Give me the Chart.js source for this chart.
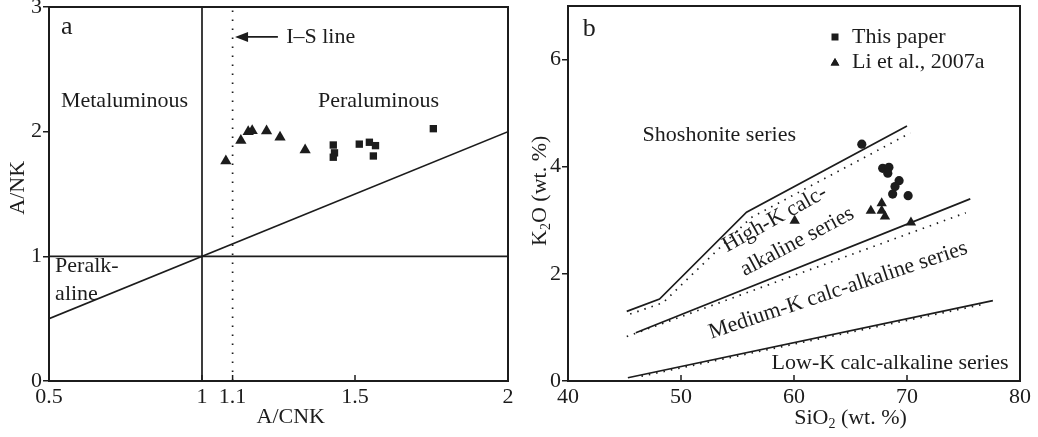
<!DOCTYPE html>
<html>
<head>
<meta charset="utf-8">
<script src="https://cdn.jsdelivr.net/npm/chart.js@4.4.0/dist/chart.umd.min.js"></script>
<style>
  body { margin: 0; background: #fff; }
  #wrap { display: flex; width: 1038px; height: 437px; }
</style>
</head>
<body>
<div id="wrap">
  <canvas id="chartA" width="520" height="437"></canvas>
  <canvas id="chartB" width="518" height="437"></canvas>
</div>
<script>
// ---- panel a : A/CNK vs A/NK ----
const acnkTicks = [0.5, 1, 1.1, 1.5, 2];
const ankTicks = [0, 1, 2, 3];
const liAcnk = [1.078, 1.127, 1.151, 1.164, 1.211, 1.255, 1.337];
const liAnk = [1.765, 1.93, 2.0, 2.008, 2.006, 1.955, 1.853];
const paperAcnk = [1.429, 1.433, 1.429, 1.514, 1.547, 1.567, 1.56, 1.756];
const paperAnk = [1.893, 1.83, 1.795, 1.90, 1.915, 1.888, 1.805, 2.024];

// ---- panel b : SiO2 vs K2O ----
const sio2Ticks = [40, 50, 60, 70, 80];
const k2oTicks = [0, 2, 4, 6];
const paperSio2 = [66.0, 67.85, 68.4, 68.3, 69.3, 68.94, 68.73, 70.1];
const paperK2o = [4.42, 3.97, 3.99, 3.88, 3.74, 3.63, 3.49, 3.46];
const liSio2 = [60.06, 66.8, 67.76, 67.76, 68.05, 70.35];
const liK2o = [2.99, 3.18, 3.32, 3.18, 3.07, 2.96];

// series boundaries (solid) and alternative boundaries (dotted)
const shoshSio2 = [45.2, 48.1, 55.8, 70];
const shoshK2o = [1.30, 1.53, 3.15, 4.76];
const highSio2 = [46, 75.6];
const highK2o = [0.9, 3.4];
const lowSio2 = [45.3, 77.6];
const lowK2o = [0.06, 1.5];
const shoshDotSio2 = [45.5, 48.4, 56.2, 70.3];
const shoshDotK2o = [1.25, 1.46, 3.05, 4.63];
const highDotSio2 = [45.2, 75.2];
const highDotK2o = [0.83, 3.14];
const lowDotSio2 = [46.5, 76.5];
const lowDotK2o = [0.09, 1.42];

const ink = '#1c1c1c';
const serif = '"Liberation Serif", "Times New Roman", serif';

const pts = (xs, ys) => xs.map((x, i) => ({ x: x, y: ys[i] }));

function drawText(chart, txt, x, y, opt) {
  opt = opt || {};
  const { ctx, scales } = chart;
  ctx.save();
  ctx.translate(scales.x.getPixelForValue(x), scales.y.getPixelForValue(y));
  if (opt.rot) ctx.rotate(opt.rot * Math.PI / 180);
  ctx.font = (opt.size || 22) + 'px ' + serif;
  ctx.textAlign = opt.align || 'left';
  ctx.textBaseline = 'middle';
  ctx.fillStyle = ink;
  ctx.fillText(txt, 0, 0);
  ctx.restore();
}

// text with subscript runs, centred on (px, py)
function drawRuns(ctx, runs, px, py, rot) {
  ctx.save();
  ctx.translate(px, py);
  if (rot) ctx.rotate(rot * Math.PI / 180);
  ctx.fillStyle = ink;
  ctx.textBaseline = 'middle';
  ctx.textAlign = 'left';
  let w = 0;
  runs.forEach(r => { ctx.font = (r.sub ? 14 : 22) + 'px ' + serif; w += ctx.measureText(r.t).width; });
  let cx = -w / 2;
  runs.forEach(r => {
    ctx.font = (r.sub ? 14 : 22) + 'px ' + serif;
    ctx.fillText(r.t, cx, r.sub ? 6 : 0);
    cx += ctx.measureText(r.t).width;
  });
  ctx.restore();
}

function drawFrame(chart) {
  const { ctx, chartArea: a, scales } = chart;
  ctx.save();
  ctx.strokeStyle = ink;
  ctx.lineWidth = 2;
  ctx.strokeRect(a.left, a.top, a.right - a.left, a.bottom - a.top);
  ctx.lineWidth = 1.5;
  scales.x.ticks.forEach(t => {
    const px = scales.x.getPixelForValue(t.value);
    ctx.beginPath();
    ctx.moveTo(px, a.bottom);
    ctx.lineTo(px, a.bottom - 6);
    ctx.stroke();
  });
  ctx.restore();
}

function axisOpts(ticks, width, height) {
  return {
    type: 'linear',
    min: ticks[0],
    max: ticks[ticks.length - 1],
    afterBuildTicks: s => { s.ticks = ticks.map(v => ({ value: v })); },
    afterFit: s => {
      if (width) s.width = width;
      if (height) s.height = height;
      s.paddingTop = 0; s.paddingBottom = 0; s.paddingLeft = 0; s.paddingRight = 0;
    },
    border: { display: false },
    ticks: {
      color: ink,
      font: { family: serif, size: 22 },
      maxRotation: 0,
      autoSkip: false,
      padding: width ? 1 : 3,
      callback: v => String(v)
    },
    grid: width
      ? { drawOnChartArea: false, drawTicks: true, tickLength: 6, color: ink, lineWidth: 1.5 }
      : { display: false, drawTicks: false }
  };
}

function lineSet(data, dotted) {
  return {
    data: data,
    showLine: true,
    pointRadius: 0,
    borderColor: ink,
    borderWidth: 1.7,
    borderDash: dotted ? [1.5, 6] : [],
    fill: false,
    order: 2
  };
}

// ---------- chart a ----------
const plugA = {
  id: 'plugA',
  afterDatasetsDraw(chart) {
    const { ctx, scales } = chart;
    drawFrame(chart);
    drawText(chart, 'a', 0.539, 2.84, { size: 26 });
    drawText(chart, 'Metaluminous', 0.539, 2.245);
    drawText(chart, 'Peraluminous', 1.379, 2.245);
    drawText(chart, 'I\u2013S line', 1.275, 2.76);
    drawText(chart, 'Peralk-', 0.52, 0.92);
    drawText(chart, 'aline', 0.52, 0.70);
    // arrow to the I-S line
    const y = scales.y.getPixelForValue(2.76);
    const x0 = scales.x.getPixelForValue(1.248), x1 = scales.x.getPixelForValue(1.108);
    ctx.save();
    ctx.strokeStyle = ink; ctx.fillStyle = ink; ctx.lineWidth = 1.8;
    ctx.beginPath(); ctx.moveTo(x0, y); ctx.lineTo(x1 + 10, y); ctx.stroke();
    ctx.beginPath(); ctx.moveTo(x1, y); ctx.lineTo(x1 + 13, y - 5); ctx.lineTo(x1 + 13, y + 5); ctx.closePath(); ctx.fill();
    ctx.restore();
    // axis titles
    drawRuns(ctx, [{ t: 'A/CNK' }], scales.x.getPixelForValue(1.29), 417, 0);
    drawRuns(ctx, [{ t: 'A/NK' }], 18, scales.y.getPixelForValue(1.55), -90);
  }
};

new Chart(document.getElementById('chartA'), {
  type: 'scatter',
  data: {
    datasets: [
      { data: pts(paperAcnk, paperAnk), pointStyle: 'rect', pointRadius: 5.2, backgroundColor: ink, borderColor: ink, borderWidth: 0, order: 1 },
      { data: pts(liAcnk, liAnk), pointStyle: 'triangle', pointRadius: 6.5, backgroundColor: ink, borderColor: ink, borderWidth: 0, order: 1 },
      lineSet([{ x: 1, y: 0 }, { x: 1, y: 3 }]),
      lineSet([{ x: 0.5, y: 1 }, { x: 2, y: 1 }]),
      lineSet([{ x: 0.5, y: 0.5 }, { x: 2, y: 2 }]),
      Object.assign(lineSet([{ x: 1.1, y: 0 }, { x: 1.1, y: 3 }], true), { borderDash: [1.5, 7.5] })
    ]
  },
  options: {
    responsive: false,
    animation: false,
    events: [],
    layout: { padding: { top: 7, right: 12, left: 0, bottom: 0 } },
    plugins: { legend: { display: false }, tooltip: { enabled: false } },
    scales: {
      x: axisOpts(acnkTicks, 0, 56),
      y: axisOpts(ankTicks, 49, 0)
    }
  },
  plugins: [plugA]
});

// ---------- chart b ----------
const plugB = {
  id: 'plugB',
  afterDatasetsDraw(chart) {
    const { ctx, scales, chartArea: a } = chart;
    drawFrame(chart);
    drawText(chart, 'b', 41.3, 6.57, { size: 26 });
    drawText(chart, 'Shoshonite series', 46.6, 4.58);
    drawText(chart, 'High-K calc-', 58.3, 3.02, { align: 'center', rot: -29 });
    drawText(chart, 'alkaline series', 60.3, 2.6, { align: 'center', rot: -28 });
    drawText(chart, 'Medium-K calc-alkaline series', 63.9, 1.69, { align: 'center', rot: -18.4 });
    drawText(chart, 'Low-K calc-alkaline series', 68.5, 0.33, { align: 'center' });
    // legend
    const lx = a.right - 185;
    ctx.save();
    ctx.fillStyle = ink;
    ctx.fillRect(lx - 3.5, 37 - 3.5, 7, 7);
    Chart.helpers.drawPoint(ctx, { pointStyle: 'triangle', radius: 5, borderWidth: 0 }, lx, 63);
    ctx.fill();
    ctx.font = '22px ' + serif;
    ctx.textBaseline = 'middle';
    ctx.fillText('This paper', lx + 17, 37);
    ctx.fillText('Li et al., 2007a', lx + 17, 62);
    ctx.restore();
    // axis titles
    drawRuns(ctx, [{ t: 'SiO' }, { t: '2', sub: true }, { t: ' (wt. %)' }], scales.x.getPixelForValue(65), 418, 0);
    drawRuns(ctx, [{ t: 'K' }, { t: '2', sub: true }, { t: 'O (wt. %)' }], 20, scales.y.getPixelForValue(3.55), -90);
  }
};

new Chart(document.getElementById('chartB'), {
  type: 'scatter',
  data: {
    datasets: [
      { data: pts(paperSio2, paperK2o), pointStyle: 'circle', pointRadius: 4.6, backgroundColor: ink, borderColor: ink, borderWidth: 0, order: 1 },
      { data: pts(liSio2, liK2o), pointStyle: 'triangle', pointRadius: 6, backgroundColor: ink, borderColor: ink, borderWidth: 0, order: 1 },
      lineSet(pts(shoshSio2, shoshK2o)),
      lineSet(pts(highSio2, highK2o)),
      lineSet(pts(lowSio2, lowK2o)),
      lineSet(pts(shoshDotSio2, shoshDotK2o), true),
      lineSet(pts(highDotSio2, highDotK2o), true),
      lineSet(pts(lowDotSio2, lowDotK2o), true)
    ]
  },
  options: {
    responsive: false,
    animation: false,
    events: [],
    layout: { padding: { top: 6, right: 18, left: 0, bottom: 0 } },
    plugins: { legend: { display: false }, tooltip: { enabled: false } },
    scales: {
      x: axisOpts(sio2Ticks, 0, 56),
      y: Object.assign(axisOpts(k2oTicks, 48, 0), { max: 7 })
    }
  },
  plugins: [plugB]
});
</script>
</body>
</html>
